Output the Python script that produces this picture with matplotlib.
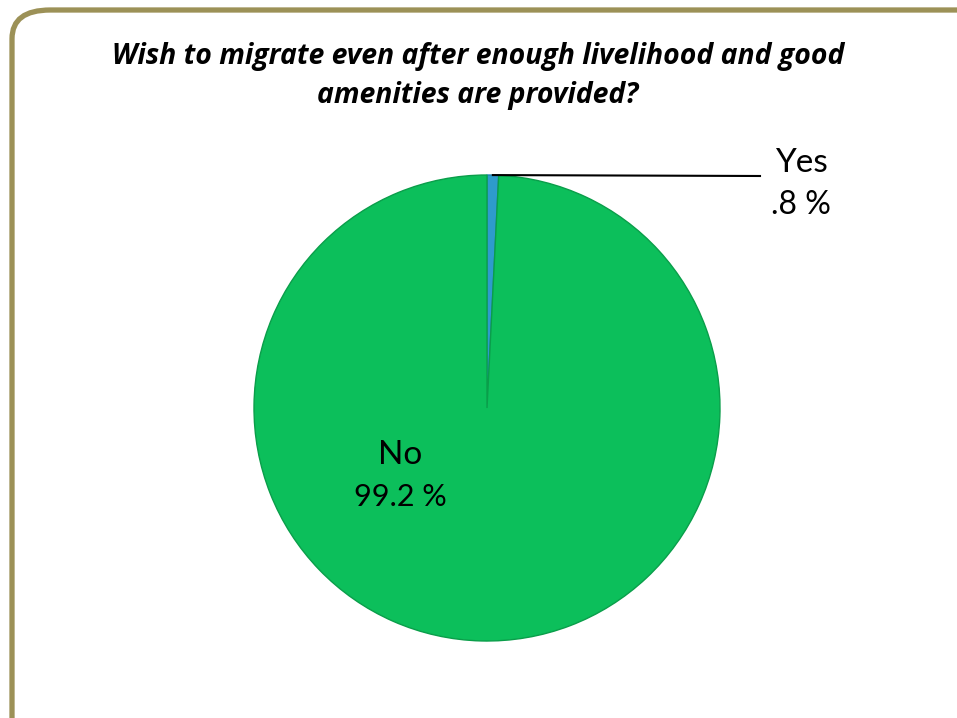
import matplotlib
matplotlib.use("Agg")
import matplotlib.pyplot as plt
from matplotlib.patches import FancyBboxPatch
import numpy as np

title = "Wish to migrate even after enough livelihood and good\namenities are provided?"
labels = ["Yes", "No"]
values = [0.8, 99.2]
pct_text = [".8 %", "99.2 %"]
colors = ["#2E9BCC", "#0CBF5B"]
edge_colors = ["#1F7FAD", "#0A9E4A"]

W, H = 957, 718
fig = plt.figure(figsize=(W / 100, H / 100), dpi=100)
fig.patch.set_facecolor("white")

# rounded border (extends past right/bottom edges)
border = FancyBboxPatch((12 / W, -40 / H), (W + 40) / W, (H - 10 + 40) / H,
                        boxstyle="round,pad=0,rounding_size=0.04",
                        transform=fig.transFigure, facecolor="none",
                        edgecolor="#9C9157", linewidth=3.8, zorder=-5)
fig.patches.append(border)

cx, cy, r = 487, 408, 233
ax = fig.add_axes([(cx - r) / W, (H - cy - r) / H, 2 * r / W, 2 * r / H])

wedges, _ = ax.pie(values, colors=colors, startangle=90, counterclock=False,
                   radius=1, wedgeprops=dict(linewidth=1.0))
for w, ec in zip(wedges, edge_colors):
    w.set_edgecolor(ec)
ax.set_aspect("auto")
ax.set_xlim(-1, 1)
ax.set_ylim(-1, 1)
ax.axis("off")

# title
fig.text(478 / W, 1 - 76 / H, title, ha="center", va="center",
         fontsize=20.4, fontweight="bold", fontstyle="italic",
         family="Open Sans", linespacing=1.45)

# Yes label with leader line
w0 = wedges[0]
ang = np.deg2rad((w0.theta1 + w0.theta2) / 2)
px, py = np.cos(ang), np.sin(ang)
ex = (760 - cx) / r
ey = (cy - 176) / r
ax.plot([px, ex], [py, ey], color="black", lw=1.5, clip_on=False)
fig.text(801 / W, 1 - 163 / H, labels[0], ha="center", va="center",
         fontsize=24, family="Lato")
fig.text(801 / W, 1 - 205 / H, pct_text[0], ha="center", va="center",
         fontsize=23, family="Lato")

# No label
fig.text(400 / W, 1 - 455 / H, labels[1], ha="center", va="center",
         fontsize=24, family="Lato")
fig.text(400 / W, 1 - 497 / H, pct_text[1], ha="center", va="center",
         fontsize=22, family="Lato")

fig.savefig("out.png", dpi=100, facecolor="white")
